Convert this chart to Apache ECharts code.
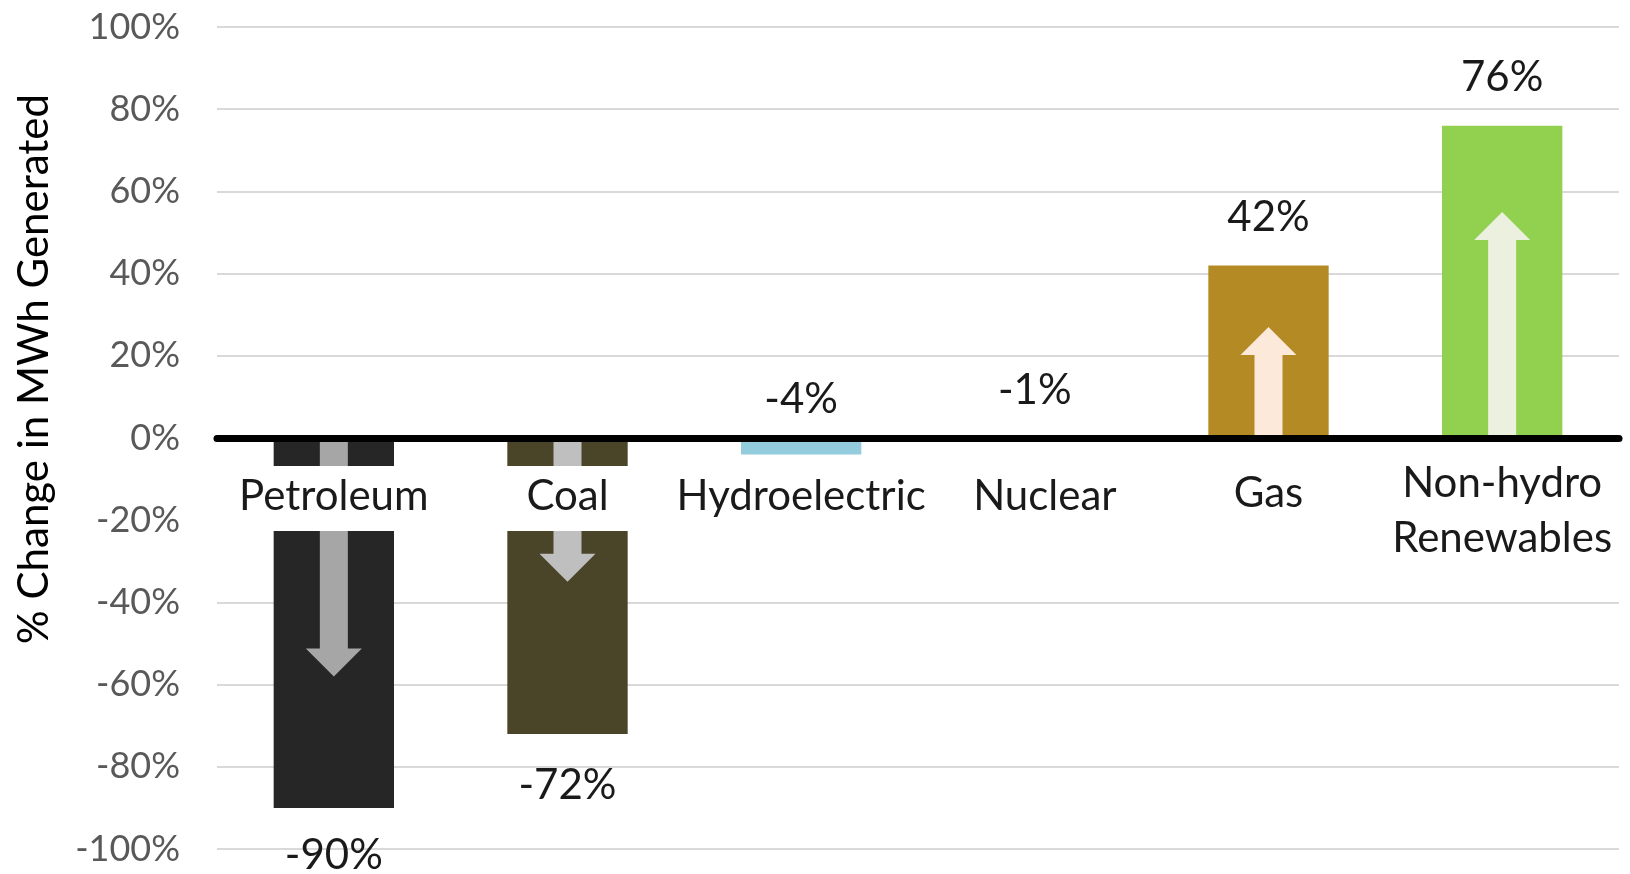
<!DOCTYPE html>
<html>
<head>
<meta charset="utf-8">
<script src="https://cdn.jsdelivr.net/npm/echarts@6/dist/echarts.min.js"></script>
<style>
html, body { margin: 0; padding: 0; background: #fff; }
#chart { width: 1630px; height: 874px; }
</style>
</head>
<body>
<div id="chart"></div>
<script>
// fuel types and % change in MWh generated
var categories = ['Petroleum', 'Coal', 'Hydroelectric', 'Nuclear', 'Gas', 'Non-hydro\nRenewables'];
var changes = [-90, -72, -4, -1, 42, 76];
var barColors = ['#262626', '#4a4429', '#93cddd', '#404040', '#b38a24', '#92d050'];
// arrow tips inside the bars (value where the arrow head points)
var arrowTips = [-58, -35, null, null, 27, 55];
var arrowColors = ['#a6a6a6', '#bfbfbf', null, null, '#fde9d9', '#ebf1de'];
var yTicks = [-100, -80, -60, -40, -20, 0, 20, 40, 60, 80, 100];

var FONT = 'Lato';
var GRID_TOP = 27, GRID_BOTTOM = 25, H = 874;

function genBarData() {
	var out = [];
	for (var i = 0; i < changes.length; i++) {
		var v = changes[i];
		var small = Math.abs(v) < 10;
		var dist = 27;
		if (i == 1) dist = 31;
		if (i == 2) dist = 18;
		out.push({
			value : v,
			itemStyle : { color : barColors[i] },
			label : {
				position : (v < 0 && !small) ? 'bottom' : 'top',
				distance : dist
			}
		});
	}
	return out;
}

function genArrowData() {
	var out = [];
	for (var i = 0; i < arrowTips.length; i++) {
		if (arrowTips[i] === null) continue;
		out.push({ value : [i, arrowTips[i]], itemStyle : { color : arrowColors[i] } });
	}
	return out;
}

function renderArrow(params, api) {
	var base = api.coord([api.value(0), 0]);
	var tip = api.coord([api.value(0), api.value(1)]);
	var cx = base[0];
	var dir = tip[1] > base[1] ? 1 : -1;
	var head = 28, shaft = 14, wing = 28;
	var hb = tip[1] - dir * head;
	return {
		type : 'polygon',
		shape : {
			points : [
				[cx - shaft, base[1]], [cx - shaft, hb], [cx - wing, hb],
				[cx, tip[1]],
				[cx + wing, hb], [cx + shaft, hb], [cx + shaft, base[1]]
			]
		},
		style : { fill : api.visual('color') }
	};
}

var xData = categories.map(function (c, i) {
	if (c.indexOf('\n') >= 0) {
		return { value : c, textStyle : { lineHeight : 55, padding : [-10, 0, 0, 0], backgroundColor : 'transparent' } };
	}
	if (c == 'Nuclear') {
		return { value : c, textStyle : { padding : [6, 0, 10, 20] } };
	}
	if (c == 'Gas') {
		return { value : c, textStyle : { padding : [3, 0, 13, 0] } };
	}
	return c;
});

// the -20% gridline is hidden behind the category labels in the original
var gridColors = yTicks.map(function (t) { return t == -20 ? '#ffffff' : '#d9d9d9'; });

// move the category axis up to the 0% line (half of the plot height)
var zeroOffset = -(H - GRID_TOP - GRID_BOTTOM) / 2;

var option = {
	animation : false,
	grid : { left : 217, right : 11, top : GRID_TOP, bottom : GRID_BOTTOM, containLabel : false, outerBoundsMode : 'none' },
	xAxis : {
		type : 'category',
		data : xData,
		position : 'bottom',
		offset : zeroOffset,
		z : 10,
		axisLine : { onZero : false, lineStyle : { color : '#000', width : 7 } },
		axisTick : { show : false },
		axisLabel : {
			interval : 0,
			margin : 28,
			fontFamily : FONT,
			fontSize : 42,
			color : '#1a1a1a',
			lineHeight : 49,
			width : 200,
			overflow : 'none',
			backgroundColor : '#fff',
			padding : [6, 0, 10, 0]
		}
	},
	yAxis : {
		type : 'value',
		min : -100,
		max : 100,
		interval : 20,
		name : '% Change in MWh Generated',
		nameLocation : 'middle',
		nameRotate : 90,
		nameGap : 162,
		nameTextStyle : { fontFamily : FONT, fontSize : 42, color : '#000', padding : [0, 0, 0, 138] },
		axisLine : { show : false },
		axisTick : { show : false },
		axisLabel : {
			formatter : '{value}%',
			margin : 37,
			fontFamily : FONT,
			fontSize : 36,
			color : '#595959'
		},
		splitLine : { lineStyle : { color : gridColors, width : 2 } }
	},
	series : [ {
		name : 'change',
		type : 'bar',
		barWidth : '51.5%',
		data : genBarData(),
		label : {
			show : true,
			formatter : '{c}%',
			fontFamily : FONT,
			fontSize : 42,
			color : '#1a1a1a'
		}
	}, {
		name : 'arrows',
		type : 'custom',
		z : 3,
		renderItem : renderArrow,
		data : genArrowData()
	} ]
};

var chart = echarts.init(document.getElementById('chart'));
chart.setOption(option, true);
</script>
</body>
</html>
